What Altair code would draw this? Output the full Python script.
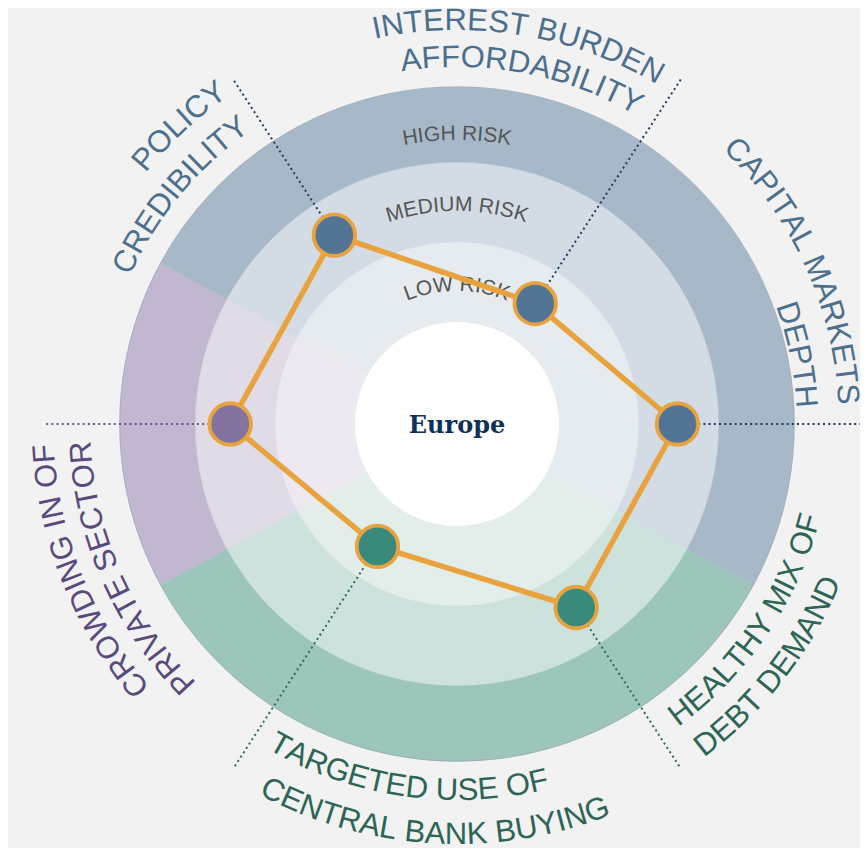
import math
import altair as alt
import pandas as pd

# ---------------- data ----------------
pillar_lines = [
    ["POLICY", "CREDIBILITY"],
    ["INTEREST BURDEN", "AFFORDABILITY"],
    ["CAPITAL MARKETS", "DEPTH"],
    ["HEALTHY MIX OF", "DEBT DEMAND"],
    ["TARGETED USE OF", "CENTRAL BANK BUYING"],
    ["CROWDING IN OF", "PRIVATE SECTOR"],
]
pillar_angle = [327, 33, 90, 147, 213, 270]          # degrees, clockwise from north
pillar_group = ["blue", "blue", "blue", "green", "green", "purple"]
europe_score = [1.54, 0.52, 1.48, 1.46, 0.55, 1.56]  # 0-1 low, 1-2 medium, 2-3 high
band_names = ["LOW RISK", "MEDIUM RISK", "HIGH RISK"]
band_lo = [0, 1, 2]
band_hi = [1, 2, 2.94]
region_name = ["Europe"]

# ---------------- layout / style ----------------
W, H = 852, 840
CX, CY = 449, 416
HUB, RING = 102, 80
GUIDE_R = 411
ORANGE = "#e8a33e"
FONT = "Liberation Sans, Arial, sans-serif"
LABEL_FS = 31
BAND_FS = 21

palette = {
    "blue": ["#e6ebef", "#d3dce4", "#a7b9c9"],
    "green": ["#e3eeeb", "#cde2dd", "#9cc5bb"],
    "purple": ["#ece9f0", "#dfdbe7", "#c1b7d0"],
}
dot_fill = {"blue": "#537595", "green": "#3a8a7b", "purple": "#82739f"}
guide_col = {"blue": "#1c3c60", "green": "#2e6b5c", "purple": "#655592"}
text_col = {"blue": "#4d6f8e", "green": "#2d6555", "purple": "#594a7e"}

# (center angle, baseline radius, direction) for each label line
label_layout = {
    "POLICY": (317.0, 400, 1), "CREDIBILITY": (309.6, 359, 1),
    "INTEREST BURDEN": (9.2, 394, 1), "AFFORDABILITY": (10.6, 357, 1),
    "CAPITAL MARKETS": (65.6, 382, 1), "DEPTH": (78.5, 340, 1),
    "HEALTHY MIX OF": (124.1, 375, -1), "DEBT DEMAND": (127.9, 415, -1),
    "TARGETED USE OF": (188.0, 376, -1), "CENTRAL BANK BUYING": (183.3, 420, -1),
    "CROWDING IN OF": (248.3, 404, 1), "PRIVATE SECTOR": (246.3, 367, 1),
}
band_label_r = [133, 213, 284]

ARIAL = dict(A=667, B=667, C=722, D=722, E=667, F=611, G=778, H=722, I=278, J=500,
             K=667, L=556, M=833, N=722, O=778, P=667, Q=778, R=722, S=667, T=611,
             U=722, V=667, W=944, X=667, Y=667, Z=611)
ARIAL[" "] = 278


def rad(v):
    return HUB + v * RING


def polar(r, deg):
    t = math.radians(deg)
    return r * math.sin(t), r * math.cos(t)


def arc_chars(text, center, r, direction, fs, color):
    ws = [ARIAL[c] * fs / 1000 for c in text]
    total = sum(ws)
    rows, s = [], 0.0
    for c, w in zip(text, ws):
        mid = s + w / 2 - total / 2
        th = center + direction * math.degrees(mid / r)
        if c != " ":
            x, y = polar(r, th)
            rows.append(dict(ch=c, x=x, y=y, rot=th if direction == 1 else th - 180, col=color))
        s += w
    return rows


# sectors: one wedge per pillar, then merge neighbours of the same colour group
n = len(pillar_angle)
wedges = []
for i, a in enumerate(pillar_angle):
    gp = (a - pillar_angle[i - 1]) % 360
    gn = (pillar_angle[(i + 1) % n] - a) % 360
    wedges.append([a - gp / 2, a + gn / 2, pillar_group[i]])
wedges.sort(key=lambda w: w[0] % 360)
merged = []
for w in wedges:
    if merged and merged[-1][2] == w[2] and abs(merged[-1][1] % 360 - w[0] % 360) < 1e-6:
        merged[-1][1] = merged[-1][1] + (w[1] - w[0])
    else:
        merged.append(list(w))
if len(merged) > 1 and merged[0][2] == merged[-1][2]:
    first = merged.pop(0)
    merged[-1][1] += first[1] - first[0]
sect = []
for t0, t1, g in merged:
    if t0 < 0:
        t0, t1 = t0 + 360, t1 + 360
    for b in range(3):
        sect.append(dict(t0=t0, t1=t1, r0=band_lo[b], r1=band_hi[b], fill=palette[g][b]))
sect_df = pd.DataFrame(sect)

pts = []
for i, (a, s) in enumerate(zip(pillar_angle, europe_score)):
    x, y = polar(rad(s), a)
    gx, gy = polar(GUIDE_R, a)
    pts.append(dict(ord=i, x=x, y=y, gx=gx, gy=gy, fill=dot_fill[pillar_group[i]],
                    gcol=guide_col[pillar_group[i]]))
pts_df = pd.DataFrame(pts)
line_df = pd.concat([pts_df, pts_df.iloc[[0]].assign(ord=n)], ignore_index=True)

chars = []
for i, lines in enumerate(pillar_lines):
    for ln in lines:
        c, r, d = label_layout[ln]
        chars += arc_chars(ln, c, r, d, LABEL_FS, text_col[pillar_group[i]])
chars_df = pd.DataFrame(chars)

bchars = []
for b, name in enumerate(band_names):
    bchars += arc_chars(name, 0, band_label_r[b], 1, BAND_FS, "#555555")
bchars_df = pd.DataFrame(bchars)

# ---------------- scales ----------------
xs = alt.Scale(domain=[-CX, W - CX], nice=False, zero=False)
ys = alt.Scale(domain=[-(H - CY), CY], nice=False, zero=False)
ts = alt.Scale(domain=[0, 360], range=[0, 2 * math.pi])
rs = alt.Scale(type="linear", domain=[0, 3], range=[HUB, HUB + 3 * RING], zero=False)

cx = alt.X(datum=0, type="quantitative", scale=xs, axis=None)
cy = alt.Y(datum=0, type="quantitative", scale=ys, axis=None)

arcs = alt.Chart(sect_df).mark_arc(strokeWidth=0.5).encode(
    x=cx, y=cy,
    theta=alt.Theta("t0:Q", scale=ts, stack=None), theta2="t1:Q",
    radius=alt.Radius("r1:Q", scale=rs), radius2="r0:Q",
    fill=alt.Fill("fill:N", scale=None), stroke=alt.Stroke("fill:N", scale=None),
)

rim = alt.Chart(pd.DataFrame({"name": region_name})).mark_arc(
    filled=False, fillOpacity=0, stroke="#8e9db0", strokeWidth=0.8, strokeOpacity=0.8,
    radius2=0, theta=0, theta2=2 * math.pi
).encode(x=cx, y=cy, radius=alt.Radius(datum=band_hi[-1], type="quantitative", scale=rs))

hub = alt.Chart(pd.DataFrame({"name": region_name})).mark_arc(
    fill="white", radius=HUB, radius2=0, theta=0, theta2=2 * math.pi
).encode(x=cx, y=cy)

band_text = alt.Chart(bchars_df).mark_text(
    font=FONT, fontSize=BAND_FS, align="center", baseline="alphabetic"
).encode(
    x=alt.X("x:Q", scale=xs, axis=None), y=alt.Y("y:Q", scale=ys, axis=None),
    text="ch:N", angle=alt.Angle("rot:Q", scale=None), color=alt.Color("col:N", scale=None),
)

guides = alt.Chart(pts_df).mark_rule(strokeWidth=2, strokeDash=[2, 3.2]).encode(
    x=alt.X("x:Q", scale=xs, axis=None), y=alt.Y("y:Q", scale=ys, axis=None),
    x2="gx:Q", y2="gy:Q", stroke=alt.Stroke("gcol:N", scale=None),
)

poly = alt.Chart(line_df).mark_line(color=ORANGE, strokeWidth=5.5, strokeJoin="round").encode(
    x=alt.X("x:Q", scale=xs, axis=None), y=alt.Y("y:Q", scale=ys, axis=None),
    order="ord:Q",
)

dots = alt.Chart(pts_df).mark_point(
    shape="circle", filled=True, size=1722, stroke=ORANGE, strokeWidth=3.8, opacity=1
).encode(
    x=alt.X("x:Q", scale=xs, axis=None), y=alt.Y("y:Q", scale=ys, axis=None),
    fill=alt.Fill("fill:N", scale=None),
)

center_text = alt.Chart(pd.DataFrame({"name": region_name})).mark_text(
    font="DejaVu Serif", fontWeight="bold", fontSize=24, color="#0d3157",
    align="center", baseline="alphabetic", dy=9,
).encode(x=cx, y=cy, text="name:N")

labels = alt.Chart(chars_df).mark_text(
    font=FONT, fontSize=LABEL_FS, align="center", baseline="alphabetic"
).encode(
    x=alt.X("x:Q", scale=xs, axis=None), y=alt.Y("y:Q", scale=ys, axis=None),
    text="ch:N", angle=alt.Angle("rot:Q", scale=None), color=alt.Color("col:N", scale=None),
)

chart = alt.layer(arcs, rim, hub, band_text, guides, poly, dots, center_text, labels).properties(
    width=W, height=H, background="#f2f2f2", padding=0, autosize=alt.AutoSizeParams(type="none"),
).configure_view(stroke=None)

chart.save("out.html", embed_options={"renderer": "svg", "actions": False})
